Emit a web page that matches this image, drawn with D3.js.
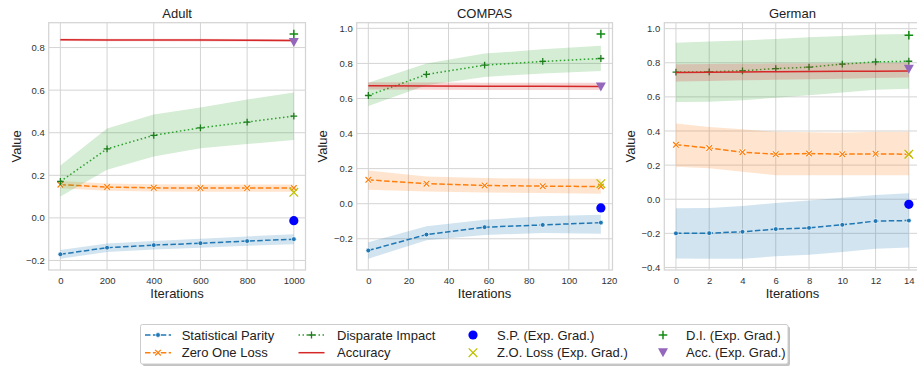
<!DOCTYPE html>
<html>
<head>
<meta charset="utf-8">
<script src="https://cdn.jsdelivr.net/npm/d3@7"></script>
<style>
  body { margin: 0; background: #fff; }
  svg { display: block; font-family: "Liberation Sans", Arial, sans-serif; }
</style>
</head>
<body>
<svg id="chart" width="917" height="367"></svg>
<script>
// each row: [low, mean, high]
const adultIters = [0, 200, 400, 600, 800, 1000];
const adultSP = [[-0.192, -0.171, -0.151], [-0.160, -0.140, -0.120], [-0.148, -0.128, -0.108], [-0.140, -0.119, -0.098], [-0.131, -0.109, -0.087], [-0.124, -0.100, -0.077]];
const adultZO = [[0.139, 0.156, 0.173], [0.128, 0.145, 0.162], [0.124, 0.141, 0.158], [0.123, 0.140, 0.157], [0.123, 0.140, 0.157], [0.123, 0.140, 0.157]];
const adultDI = [[0.101, 0.171, 0.246], [0.226, 0.324, 0.420], [0.288, 0.388, 0.486], [0.327, 0.423, 0.519], [0.347, 0.450, 0.556], [0.366, 0.478, 0.589]];
const adultAcc = [[0.831, 0.837, 0.843], [0.830, 0.836, 0.842], [0.830, 0.836, 0.842], [0.829, 0.835, 0.841], [0.828, 0.834, 0.840], [0.827, 0.833, 0.839]];
const adultExpGrad = [-0.013, 0.120, 0.864, 0.824]; // S.P., Z.O., D.I., Acc.

const compasIters = [0, 29, 58, 87, 116];
const compasSP = [[-0.314, -0.267, -0.220], [-0.208, -0.176, -0.129], [-0.178, -0.134, -0.091], [-0.167, -0.121, -0.072], [-0.172, -0.108, -0.063]];
const compasZO = [[0.080, 0.136, 0.189], [0.070, 0.114, 0.155], [0.064, 0.104, 0.146], [0.061, 0.100, 0.142], [0.057, 0.098, 0.142]];
const compasDI = [[0.557, 0.617, 0.689], [0.676, 0.737, 0.799], [0.723, 0.790, 0.856], [0.743, 0.811, 0.880], [0.756, 0.828, 0.900]];
const compasAcc = [[0.651, 0.672, 0.692], [0.650, 0.671, 0.691], [0.649, 0.670, 0.690], [0.649, 0.670, 0.690], [0.648, 0.669, 0.689]];
const compasExpGrad = [-0.024, 0.114, 0.968, 0.665];

const germanIters = [0, 2, 4, 6, 8, 10, 12, 14];
const germanSP = [[-0.347, -0.200, -0.053], [-0.349, -0.199, -0.051], [-0.349, -0.191, -0.039], [-0.335, -0.175, -0.022], [-0.325, -0.168, -0.008], [-0.310, -0.150, 0.008], [-0.290, -0.128, 0.025], [-0.283, -0.125, 0.035]];
const germanZO = [[0.190, 0.319, 0.444], [0.181, 0.300, 0.424], [0.161, 0.276, 0.410], [0.140, 0.264, 0.395], [0.140, 0.268, 0.392], [0.140, 0.264, 0.390], [0.140, 0.266, 0.395], [0.140, 0.264, 0.395]];
const germanDI = [[0.570, 0.745, 0.918], [0.572, 0.747, 0.925], [0.580, 0.753, 0.930], [0.595, 0.766, 0.940], [0.609, 0.774, 0.949], [0.626, 0.792, 0.957], [0.642, 0.805, 0.965], [0.648, 0.809, 0.969]];
const germanAcc = [[0.690, 0.743, 0.792], [0.693, 0.744, 0.793], [0.697, 0.746, 0.794], [0.700, 0.748, 0.795], [0.704, 0.749, 0.796], [0.707, 0.750, 0.797], [0.711, 0.751, 0.799], [0.714, 0.752, 0.800]];
const germanExpGrad = [-0.030, 0.264, 0.961, 0.762];

const adultXTicks = [0, 200, 400, 600, 800, 1000];
const compasXTicks = [0, 20, 40, 60, 80, 100, 120];
const germanXTicks = [0, 2, 4, 6, 8, 10, 12, 14];
const adultYTicks = [-0.2, 0, 0.2, 0.4, 0.6, 0.8];
const compasYTicks = [-0.2, 0, 0.2, 0.4, 0.6, 0.8, 1.0];
const germanYTicks = [-0.4, -0.2, 0, 0.2, 0.4, 0.6, 0.8, 1.0];

const seriesNames = ['Statistical Parity', 'Zero One Loss', 'Disparate Impact', 'Accuracy'];
const expGradNames = ['S.P. (Exp. Grad.)', 'Z.O. Loss (Exp. Grad.)', 'D.I. (Exp. Grad.)', 'Acc. (Exp. Grad.)'];

const seriesColors = ['#1f77b4', '#ff7f0e', '#2ca02c', '#d62728'];
const seriesDash = ['5.5,2.4', '5.5,2.4', '1.5,2.5', null];
const expColors = ['#0000ff', '#bfbf00', '#138a13', '#9467bd'];

const svg = d3.select('#chart');
const plotTop = 22.7, plotBottom = 270;
const gridColor = '#d4d4d4';

const panels = [
  { title: 'Adult', left: 48.7, right: 305.5, iters: adultIters, series: [adultSP, adultZO, adultDI, adultAcc], exp: adultExpGrad, xt: adultXTicks, yt: adultYTicks, labelX: 16 },
  { title: 'COMPAS', left: 356.7, right: 612.5, iters: compasIters, series: [compasSP, compasZO, compasDI, compasAcc], exp: compasExpGrad, xt: compasXTicks, yt: compasYTicks, labelX: 322.7 },
  { title: 'German', left: 664.3, right: 920.5, iters: germanIters, series: [germanSP, germanZO, germanDI, germanAcc], exp: germanExpGrad, xt: germanXTicks, yt: germanYTicks, labelX: 630.7 }
];

// marker helpers
function plusPath(s) { return `M${-s},0H${s}M0,${-s}V${s}`; }
function xPath(s) { return `M${-s},${-s}L${s},${s}M${-s},${s}L${s},${-s}`; }
function triDown(w) { const h = w * 0.9; return `M${-w / 2},${-h / 2}L${w / 2},${-h / 2}L0,${h / 2}Z`; }

function drawSeriesMarker(g, k, cx, cy) {
  const m = g.append('g').attr('transform', `translate(${cx},${cy})`);
  if (k === 0) {
    m.append('circle').attr('r', 2.4).attr('fill', seriesColors[0]).attr('stroke', '#fff').attr('stroke-width', 0.7);
  } else if (k === 1) {
    m.append('path').attr('d', xPath(2.8)).attr('stroke', '#fff').attr('stroke-width', 2.6);
    m.append('path').attr('d', xPath(2.8)).attr('stroke', seriesColors[1]).attr('stroke-width', 1.3);
  } else if (k === 2) {
    m.append('path').attr('d', plusPath(3.4)).attr('stroke', '#1d7d1d').attr('stroke-width', 1.3);
  }
}

function drawExpMarker(g, k, cx, cy) {
  const m = g.append('g').attr('transform', `translate(${cx},${cy})`);
  if (k === 0) m.append('circle').attr('r', 4.6).attr('fill', expColors[0]);
  if (k === 1) m.append('path').attr('d', xPath(4.3)).attr('stroke', expColors[1]).attr('stroke-width', 1.3);
  if (k === 2) m.append('path').attr('d', plusPath(4.3)).attr('stroke', expColors[2]).attr('stroke-width', 1.5);
  if (k === 3) m.append('path').attr('d', triDown(10)).attr('fill', expColors[3]);
}

panels.forEach(p => {
  const g = svg.append('g');
  const xExt = d3.extent(p.iters);
  const xPad = (xExt[1] - xExt[0]) * 0.05;
  const x = d3.scaleLinear().domain([xExt[0] - xPad, xExt[1] + xPad]).range([p.left, p.right]);

  const allY = p.series.flat(2).concat(p.exp);
  const yExt = d3.extent(allY);
  const yPad = (yExt[1] - yExt[0]) * 0.05;
  const y = d3.scaleLinear().domain([yExt[0] - yPad, yExt[1] + yPad]).range([plotBottom, plotTop]);

  // grid
  g.selectAll('.gx').data(p.xt).join('line')
    .attr('x1', d => x(d)).attr('x2', d => x(d))
    .attr('y1', plotTop).attr('y2', plotBottom)
    .attr('stroke', gridColor).attr('stroke-width', 1);
  g.selectAll('.gy').data(p.yt).join('line')
    .attr('y1', d => y(d)).attr('y2', d => y(d))
    .attr('x1', p.left).attr('x2', p.right)
    .attr('stroke', gridColor).attr('stroke-width', 1);

  const clip = 'clip-' + p.title;
  svg.append('clipPath').attr('id', clip).append('rect')
    .attr('x', p.left).attr('y', plotTop).attr('width', p.right - p.left).attr('height', plotBottom - plotTop);
  const plot = g.append('g').attr('clip-path', `url(#${clip})`);

  // bands and lines
  p.series.forEach((rows, k) => {
    const area = d3.area()
      .x((d, i) => x(p.iters[i]))
      .y0(d => y(d[0]))
      .y1(d => y(d[2]));
    plot.append('path').attr('d', area(rows))
      .attr('fill', seriesColors[k]).attr('fill-opacity', 0.2);
    const line = d3.line()
      .x((d, i) => x(p.iters[i]))
      .y(d => y(d[1]));
    plot.append('path').attr('d', line(rows))
      .attr('fill', 'none')
      .attr('stroke', seriesColors[k])
      .attr('stroke-width', 1.5)
      .attr('stroke-dasharray', seriesDash[k]);
    rows.forEach((d, i) => drawSeriesMarker(plot, k, x(p.iters[i]), y(d[1])));
  });

  // exponentiated gradient results at last iteration
  const lastX = x(xExt[1]);
  p.exp.forEach((v, k) => drawExpMarker(plot, k, lastX, y(v)));

  // frame
  g.append('rect')
    .attr('x', p.left).attr('y', plotTop)
    .attr('width', p.right - p.left).attr('height', plotBottom - plotTop)
    .attr('fill', 'none').attr('stroke', gridColor).attr('stroke-width', 1.25);

  // axes
  const xAxis = g.append('g').attr('transform', `translate(0,${plotBottom})`)
    .call(d3.axisBottom(x).tickValues(p.xt).tickSize(0).tickPadding(7).tickFormat(d3.format('d')));
  const yAxis = g.append('g').attr('transform', `translate(${p.left},0)`)
    .call(d3.axisLeft(y).tickValues(p.yt).tickSize(0).tickPadding(4).tickFormat(d3.format('.1f')));
  [xAxis, yAxis].forEach(a => {
    a.select('.domain').remove();
    a.selectAll('text').attr('font-size', 9.5).attr('fill', '#333').attr('font-family', '"Liberation Sans", Arial, sans-serif');
  });

  g.append('text').attr('x', (p.left + p.right) / 2).attr('y', 18)
    .attr('text-anchor', 'middle').attr('font-size', 13).attr('fill', '#222').text(p.title);
  g.append('text').attr('x', (p.left + p.right) / 2).attr('y', 297.5)
    .attr('text-anchor', 'middle').attr('font-size', 13).attr('fill', '#222').text('Iterations');
  g.append('text').attr('transform', `translate(${p.labelX + 4.5},${(plotTop + plotBottom) / 2}) rotate(-90)`)
    .attr('text-anchor', 'middle').attr('font-size', 13).attr('fill', '#222').text('Value');
});

// legend
const leg = svg.append('g');
const lx = 140.5, ly = 324.5, lw = 647.5, lh = 39.5;
leg.append('rect').attr('x', lx + 2).attr('y', ly + 2).attr('width', lw).attr('height', lh)
  .attr('rx', 2).attr('fill', '#888').attr('fill-opacity', 0.5);
leg.append('rect').attr('x', lx).attr('y', ly).attr('width', lw).attr('height', lh)
  .attr('rx', 2).attr('fill', '#fff').attr('stroke', '#cccccc').attr('stroke-width', 1);

const rowY = [335, 352.7];
const colHandle = [145, 298.5, 473, 663];
const colText = [181.7, 337, 497, 686];

seriesNames.forEach((name, k) => {
  const col = Math.floor(k / 2), row = k % 2;
  const cy = rowY[row];
  const x0 = colHandle[col], x1 = x0 + 26;
  leg.append('line').attr('x1', x0).attr('x2', x1).attr('y1', cy).attr('y2', cy)
    .attr('stroke', seriesColors[k]).attr('stroke-width', 1.5)
    .attr('stroke-dasharray', seriesDash[k]);
  drawSeriesMarker(leg, k, (x0 + x1) / 2, cy);
  leg.append('text').attr('x', colText[col]).attr('y', cy + 4.6)
    .attr('font-size', 13).attr('fill', '#222').text(name);
});

expGradNames.forEach((name, k) => {
  const col = 2 + Math.floor(k / 2), row = k % 2;
  const cy = rowY[row];
  drawExpMarker(leg, k, colHandle[col], cy);
  leg.append('text').attr('x', colText[col]).attr('y', cy + 4.6)
    .attr('font-size', 13).attr('fill', '#222').text(name);
});
</script>
</body>
</html>
